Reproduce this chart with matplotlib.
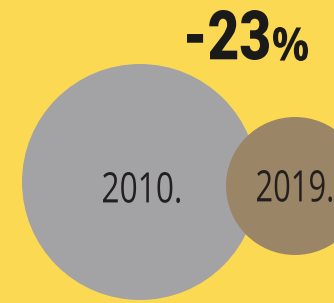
import matplotlib
matplotlib.use("Agg")
import matplotlib.pyplot as plt
from matplotlib.patches import Circle, PathPatch
from matplotlib.textpath import TextPath
from matplotlib.font_manager import FontProperties
from matplotlib.transforms import Affine2D

years = ["2010.", "2019."]
radii = [118, 69]
centers_x = [140, 295]
centers_y = [182, 186]
colors = ["#A3A3A5", "#9B8567"]
change_label = "-23"
change_unit = "%"

BG = "#FCD952"

fig = plt.figure(figsize=(3.34, 3.03), dpi=100)
fig.patch.set_facecolor(BG)
ax = fig.add_axes([0, 0, 1, 1])
ax.set_xlim(0, 334)
ax.set_ylim(303, 0)
ax.axis("off")
ax.set_facecolor(BG)


def fit_text(s, left, right, top, bottom, weight="normal", family="Open Sans",
             color="#231F20", z=6):
    tp = TextPath((0, 0), s, size=100, prop=FontProperties(family=family, weight=weight))
    ext = tp.get_extents()
    sx = (right - left) / ext.width
    sy = (bottom - top) / ext.height
    tr = Affine2D().translate(-ext.x0, -ext.y1).scale(sx, -sy).translate(left, top)
    ax.add_patch(PathPatch(tr.transform_path(tp), facecolor=color, edgecolor="none",
                           zorder=z))


for i in range(len(years)):
    ax.add_patch(Circle((centers_x[i], centers_y[i]), radii[i], facecolor=colors[i],
                        edgecolor="none", zorder=2 + i))

fit_text(years[0], 103, 180, 172, 203)
fit_text(years[1], 257, 332, 170, 202)

fit_text(change_label, 187, 269, 10, 60, weight="heavy", family="Roboto", color="#1A1A1A")
fit_text(change_unit, 273, 308, 27, 61, weight="bold", family="Open Sans", color="#1A1A1A")

fig.savefig("out.png", dpi=100, facecolor=fig.get_facecolor())
